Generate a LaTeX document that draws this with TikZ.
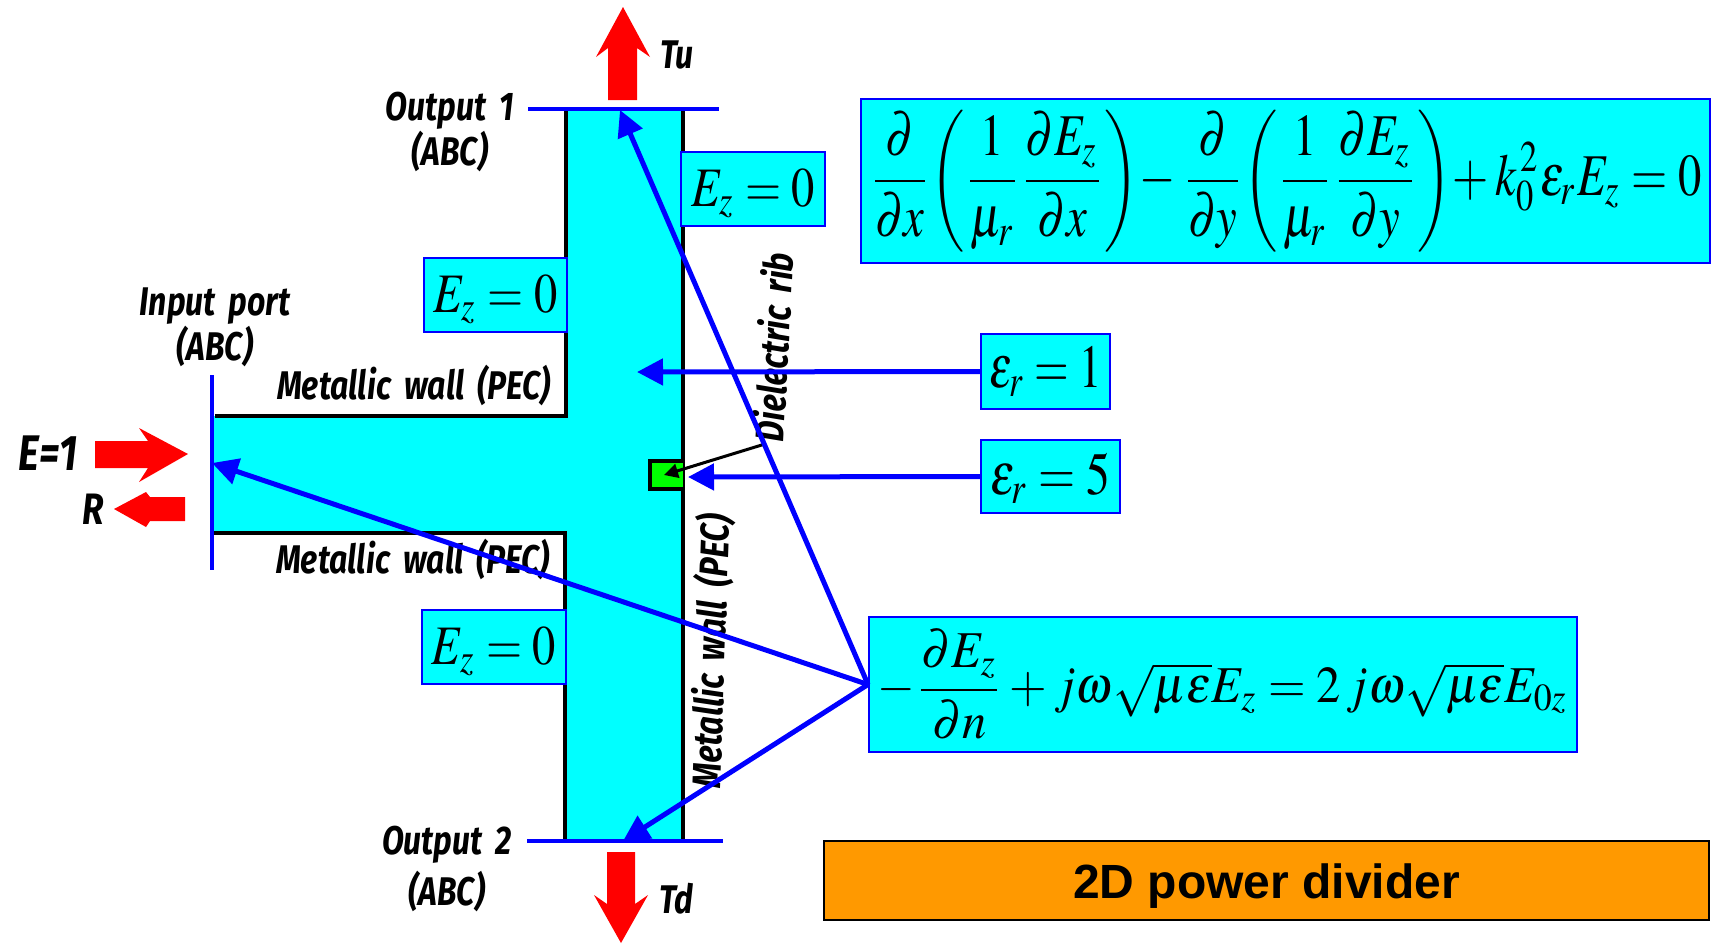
\documentclass[tikz,border=0pt]{standalone}
\usepackage{graphicx}
\usepackage{mathptmx}
\usepackage{fontspec}
\usetikzlibrary{arrows.meta}
\newfontfamily\labelfont[FakeStretch=0.8,WordSpace=1.8]{Fira Sans}
\newfontfamily\titlefont{Liberation Sans}
\definecolor{plateorange}{HTML}{FF9900}
\definecolor{platecyan}{HTML}{00FFFF}
\tikzset{
  eqbox/.style={draw=blue, fill=platecyan, line width=1pt, inner sep=0pt},
  lbl/.style={font=\fontsize{20}{21}\selectfont\labelfont\bfseries\itshape, align=center, inner sep=0pt},
  pointer/.style={draw=blue, line width=2.5pt, -{Triangle[length=13pt,width=13pt]}},
  port/.style={draw=blue, line width=2pt},
  wall/.style={draw=black, line width=2pt},
  bigarrow/.style={fill=red}
}
\begin{document}
\begin{tikzpicture}[x=0.5pt, y=-0.5pt]
      \def\eqz{\vbox{\kern4.4pt\hbox{\resizebox*{62pt}{24.5pt}{$E_z=0$}}}}
      \useasboundingbox (0,0) rectangle (1713,943);
      \fill[platecyan] (212,416) -- (566,416) -- (566,109) -- (683,109) -- (683,841) -- (565,841) -- (565,533) -- (212,533) -- cycle;
      \draw[wall] (215,416) -- (566,416) -- (566,109);
      \draw[wall] (212,533) -- (565,533) -- (565,841);
      \draw[wall] (683,109) -- (683,841);
      \filldraw[wall, fill=green] (683,461) -- (650,461) -- (650,489) -- (683,489);
      \coordinate (In) at (212,463);
      \coordinate (Up) at (620,110);
      \coordinate (Down) at (623,841);
      \coordinate (Air) at (637,372);
      \coordinate (Rib) at (688,477);
      \coordinate (RibEnd) at (664,475);
      \coordinate (RibStart) at (765,444);
      \coordinate (InA) at (212,375);
      \coordinate (InB) at (212,570);
      \coordinate (UpA) at (528,109);
      \coordinate (UpB) at (719,109);
      \coordinate (DownA) at (527,841);
      \coordinate (DownB) at (723,841);
      \draw[port] (InA) -- (InB);
      \draw[port] (UpA) -- (UpB);
      \draw[port] (DownA) -- (DownB);
      \fill[bigarrow] (608,100) -- (608,48) -- (596,57) -- (623,7) -- (650,57) -- (637,48) -- (637,100) -- cycle;
      \fill[bigarrow] (607,852) -- (607,904) -- (594,895) -- (621,943) -- (648,895) -- (635,904) -- (635,852) -- cycle;
      \fill[bigarrow] (95,441) -- (148,441) -- (139,428) -- (188,454) -- (139,482) -- (148,468) -- (95,468) -- cycle;
      \fill[bigarrow] (185,497) -- (150,497) -- (146,492) -- (114,509) -- (146,527) -- (150,521) -- (185,521) -- cycle;
      \node[lbl] (LblOutA) at (450,132) {Output 1\\(ABC)};
      \node[lbl] (LblOutB) at (447,869) {Output 2\\[3pt](ABC)};
      \node[lbl] (LblIn) at (215,327) {Input port\\(ABC)};
      \node[lbl] (LblTu) at (677,55) {Tu};
      \node[lbl] (LblTd) at (676,899) {Td};
      \node[lbl, scale=1.25] (LblE) at (48,453) {E=1};
      \node[lbl, scale=1.1] (LblR) at (93,509) {R};
      \node[lbl] (LblWallA) at (414,385) {Metallic wall (PEC)};
      \node[lbl] (LblWallB) at (413,559) {Metallic wall (PEC)};
      \node[lbl, rotate=88] (LblWallC) at (711,651) {Metallic wall (PEC)};
      \node[lbl, rotate=87] (LblRib) at (773,347) {Dielectric rib};
      \node[eqbox, minimum width=72pt, minimum height=37pt] (EzA) at (753,189) {\eqz};
      \node[eqbox, minimum width=71.5pt, minimum height=37pt] (EzB) at (495.5,295) {\eqz};
      \node[eqbox, minimum width=72pt, minimum height=37pt] (EzC) at (494,647) {\eqz};
      \node[eqbox, minimum width=424.5pt, minimum height=82pt] (Helm) at (1285.5,181) {\resizebox*{416pt}{71pt}{$\displaystyle \frac{\partial}{\partial x}\!\left(\frac{1}{\mu_r}\frac{\partial E_z}{\partial x}\right)\!-\frac{\partial}{\partial y}\!\left(\frac{1}{\mu_r}\frac{\partial E_z}{\partial y}\right)\!+k_0^{\,2}\varepsilon_r E_z=0$}};
      \node[eqbox, minimum width=64.5pt, minimum height=37.5pt] (EpsA) at (1045.5,371.5) {\resizebox*{56pt}{25pt}{$\varepsilon_r=1$}};
      \node[eqbox, minimum width=69.5pt, minimum height=36.5pt] (EpsB) at (1050.5,476.5) {\vbox{\kern2pt\hbox{\resizebox*{60pt}{25pt}{$\varepsilon_r=5$}}}};
      \node[eqbox, minimum width=354pt, minimum height=67.5pt] (Abc) at (1223,684.5) {\resizebox*{345pt}{55pt}{$\displaystyle -\frac{\partial E_z}{\partial n}+j\omega\sqrt{\mu\varepsilon}E_z=2\,j\omega\sqrt{\mu\varepsilon}E_{0z}$}};
      \node[draw=black, fill=plateorange, line width=1pt, minimum width=442.5pt, minimum height=39.5pt, font=\fontsize{24}{26}\selectfont\titlefont\bfseries] (Title) at (1266.5,880.5) {\vbox{\kern5.5pt\hbox{2D power divider}}};
      \draw[draw=black, line width=1.5pt, -{Triangle[length=7pt,width=7pt]}] (RibStart) -- (RibEnd);
      \draw[pointer] (EpsA.west) -- (Air);
      \draw[pointer] (EpsB.west) -- (Rib);
      \draw[pointer] (Abc.west) -- (In);
      \draw[pointer] (Abc.west) -- (Up);
      \draw[pointer] (Abc.west) -- (Down);
    \end{tikzpicture}
\end{document}
